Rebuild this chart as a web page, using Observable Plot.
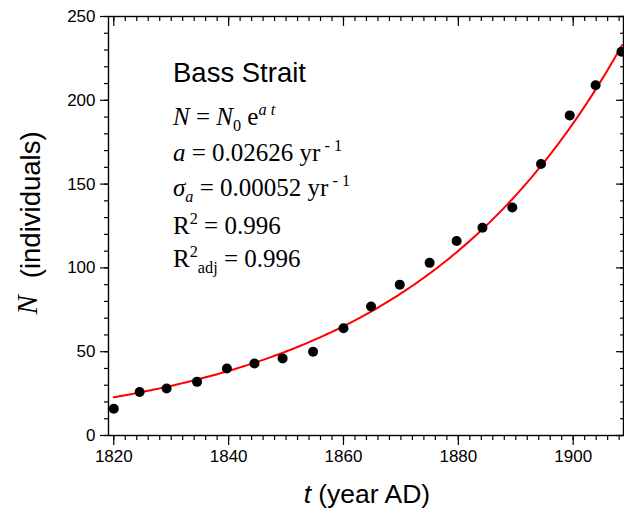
<!DOCTYPE html>
<html><head><meta charset="utf-8">
<script src="https://cdn.jsdelivr.net/npm/d3@7"></script>
<script src="https://cdn.jsdelivr.net/npm/@observablehq/plot@0.6"></script>
<style>body{margin:0;background:#fff} svg{display:block}</style>
</head><body><div id="chart"></div>
<script>
const years  = [1820, 1824.5, 1829.2, 1834.5, 1839.7, 1844.5, 1849.4, 1854.7, 1860, 1864.8, 1869.8, 1875, 1879.7, 1884.2, 1889.4, 1894.4, 1899.4, 1903.9, 1908.4];
const counts = [16, 26, 28, 32, 40, 43, 46, 50, 64, 77, 90, 103, 116, 124, 136, 162, 191, 209, 229];
// Fitted model N = N0 e^(a t), as stated on the chart
const fitN0 = 22.8, fitA = 0.02626, fitStart = 1820, fitEnd = 1908.6;
// Tick values
const xMajor = [1820, 1840, 1860, 1880, 1900];
const xMinor = [1820,1822,1824,1826,1828,1830,1832,1834,1836,1838,1840,1842,1844,1846,1848,1850,1852,1854,1856,1858,1860,1862,1864,1866,1868,1870,1872,1874,1876,1878,1880,1882,1884,1886,1888,1890,1892,1894,1896,1898,1900,1902,1904,1906,1908];
const yMajor = [0, 50, 100, 150, 200, 250];
const yMinor = [0,10,20,30,40,50,60,70,80,90,100,110,120,130,140,150,160,170,180,190,200,210,220,230,240,250];

const points = years.map((t, i) => ({t, n: counts[i]}));
const curve = d3.range(fitStart, fitEnd + 0.001, 0.5).map(t => ({t, n: fitN0 * Math.exp(fitA * (t - fitStart))}));

const blank = () => "";
const plot = Plot.plot({
  width: 624, height: 516,
  marginLeft: 108, marginRight: 1, marginTop: 16, marginBottom: 81,
  x: {domain: [1819.08, 1908.76]},
  y: {domain: [0, 250]},
  style: {fontFamily: "'Liberation Sans', Arial, sans-serif", fontSize: "17px", color: "#000", background: "#fff", overflow: "visible"},
  marks: [
    Plot.line(curve, {x: "t", y: "n", stroke: "#ff0000", strokeWidth: 2}),
    Plot.dot(points, {x: "t", y: "n", r: 5, fill: "#000", stroke: "none"}),
    Plot.axisX(xMinor, {anchor: "bottom", tickSize: 5, tickFormat: blank, label: null, strokeWidth: 1.2}),
    Plot.axisX(xMajor, {anchor: "bottom", tickSize: 10, tickPadding: 4, tickFormat: d => String(d), label: null, strokeWidth: 1.2, fontSize: 17}),
    Plot.axisX(xMinor, {anchor: "top", tickSize: 4, insetTop: 4, tickFormat: blank, label: null, strokeWidth: 1.2}),
    Plot.axisX(xMajor, {anchor: "top", tickSize: 9, insetTop: 9, tickFormat: blank, label: null, strokeWidth: 1.2}),
    Plot.axisY(yMinor, {anchor: "left", tickSize: 4, tickFormat: blank, label: null, strokeWidth: 1.2}),
    Plot.axisY(yMajor, {anchor: "left", tickSize: 8, tickPadding: 5, tickFormat: d => String(d), label: null, strokeWidth: 1.2, fontSize: 17}),
    Plot.axisY(yMinor, {anchor: "right", tickSize: 4, insetRight: 4, tickFormat: blank, label: null, strokeWidth: 1.2}),
    Plot.axisY(yMajor, {anchor: "right", tickSize: 8, insetRight: 8, tickFormat: blank, label: null, strokeWidth: 1.2}),
    Plot.frame({stroke: "#000", strokeWidth: 1.4})
  ]
});
document.getElementById("chart").appendChild(plot);

const svg = d3.select(plot);
const SANS = "'Liberation Sans', Arial, sans-serif";
const SERIF = "'Liberation Serif', 'Times New Roman', serif";

// Axis titles
const xt = svg.append("text").attr("x", 367).attr("y", 503).attr("text-anchor", "middle")
  .attr("font-family", SANS).attr("font-size", 26.5).attr("fill", "#000");
xt.append("tspan").attr("font-style", "italic").text("t");
xt.append("tspan").attr("dx", 7).text("(year AD)");

const yt = svg.append("text").attr("transform", "translate(40,223) rotate(-90)").attr("text-anchor", "middle")
  .attr("font-family", SANS).attr("font-size", 27.5).attr("fill", "#000");
yt.append("tspan").attr("font-family", SERIF).attr("font-style", "italic").attr("font-size", 29).attr("dy", -3).text("N");
yt.append("tspan").attr("dx", 17).attr("dy", 3).text("(individuals)");

// Annotation
svg.append("text").attr("x", 173).attr("y", 82).attr("text-anchor", "start")
  .attr("font-family", SANS).attr("font-size", 27.5).attr("fill", "#000").text("Bass Strait");

const FS = 25;
function line(y, parts) {
  const t = svg.append("text").attr("x", 173).attr("y", y).attr("text-anchor", "start")
    .attr("font-family", SERIF).attr("font-size", FS).attr("fill", "#000").style("white-space", "pre");
  let shift = 0;
  for (const p of parts) {
    const s = t.append("tspan").text(p.s).style("white-space", "pre");
    if (p.i) s.attr("font-style", "italic");
    const target = p.sup ? -10 : p.sub ? 6 : 0;
    if (p.sup || p.sub) s.attr("font-size", FS * 0.65);
    if (target !== shift) { s.attr("dy", target - shift); shift = target; }
  }
}
line(125, [{s: "N", i: 1}, {s: " = "}, {s: "N", i: 1}, {s: "0", sub: 1}, {s: " e"}, {s: "a t", i: 1, sup: 1}]);
line(161, [{s: "a", i: 1}, {s: " = 0.02626 yr"}, {s: " - 1", sup: 1}]);
line(196, [{s: "σ", i: 1}, {s: "a", i: 1, sub: 1}, {s: " = 0.00052 yr"}, {s: " - 1", sup: 1}]);
line(234, [{s: "R"}, {s: "2", sup: 1}, {s: " = 0.996"}]);
line(267, [{s: "R"}, {s: "2", sup: 1}, {s: "adj", sub: 1}, {s: " = 0.996"}]);
</script>
</body></html>
